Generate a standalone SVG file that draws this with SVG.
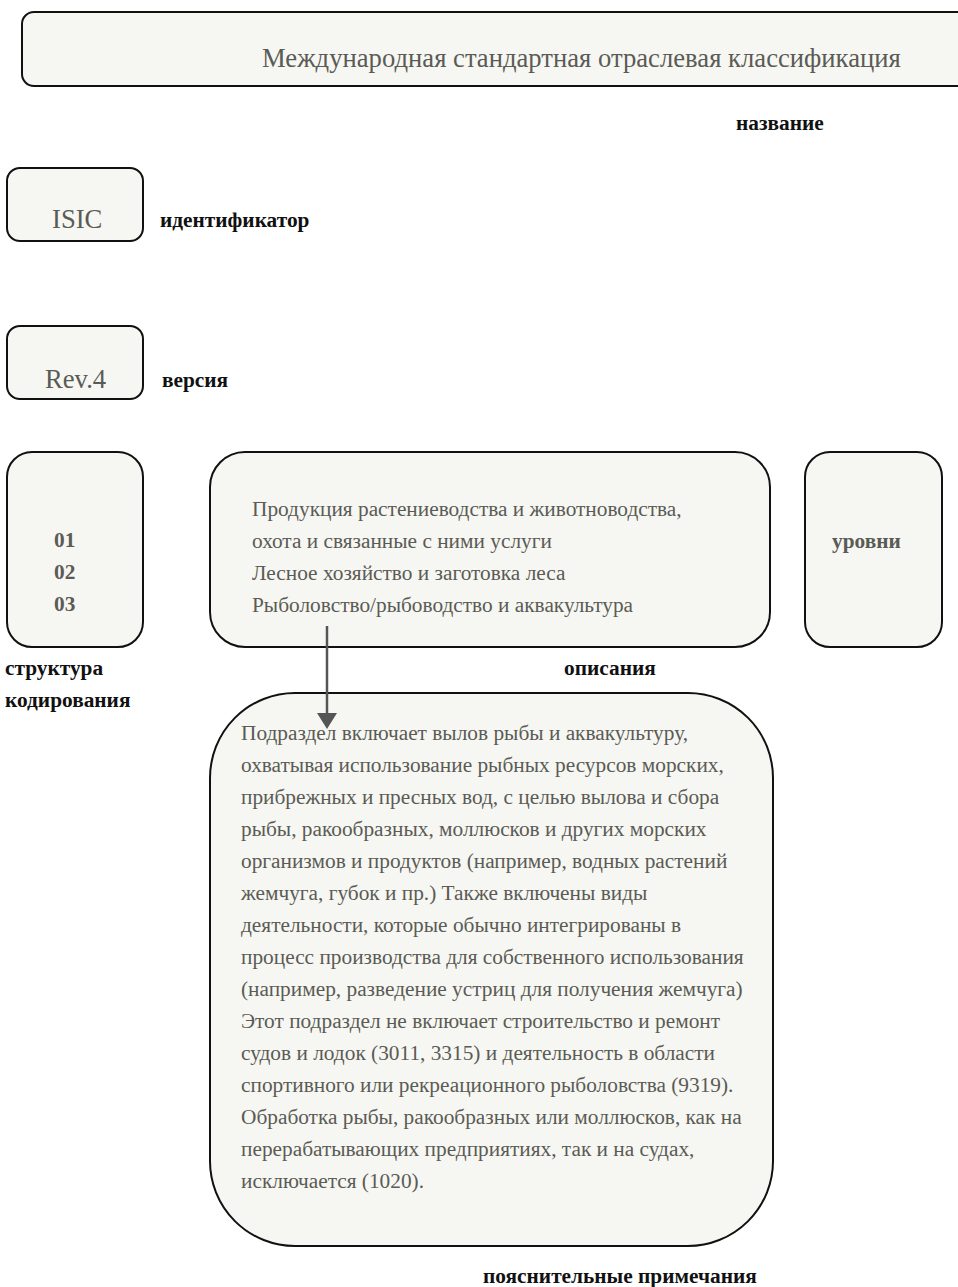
<svg xmlns="http://www.w3.org/2000/svg" width="958" height="1287" viewBox="0 0 958 1287">
<style>
.box{fill:#f6f7f2;stroke:#111;stroke-width:2}
.t{font-family:"Liberation Serif","Times New Roman",serif;fill:#5b5b55}
.big{font-size:26.67px}
.body{font-size:21.33px}
.b{font-family:"Liberation Serif","Times New Roman",serif;font-weight:bold;fill:#111;font-size:21.33px}
.gb{font-family:"Liberation Serif","Times New Roman",serif;font-weight:bold;fill:#5b5b55;font-size:21.33px}
.conn{stroke:#555;stroke-width:2.5;fill:none}
</style>
<rect width="958" height="1287" fill="#fff"/>
<g id="title">
<rect class="box" x="22" y="12" width="960" height="74" rx="12"/>
<text class="t big" x="262" y="67">Международная стандартная отраслевая классификация</text>
</g>
<text class="b" x="736" y="130">название</text>
<g id="isic">
<rect class="box" x="7" y="168" width="136" height="73" rx="13"/>
<text class="t big" x="52" y="228">ISIC</text>
</g>
<text class="b" x="160" y="227">идентификатор</text>
<g id="rev">
<rect class="box" x="7" y="326" width="136" height="73" rx="13"/>
<text class="t big" x="45" y="388">Rev.4</text>
</g>
<text class="b" x="162" y="387">версия</text>
<g id="codes">
<rect class="box" x="7" y="452" width="136" height="195" rx="25"/>
<text class="gb" x="54" y="547">01</text>
<text class="gb" x="54" y="579">02</text>
<text class="gb" x="54" y="611">03</text>
</g>
<text class="b" x="5" y="675">структура</text>
<text class="b" x="5" y="707">кодирования</text>
<g id="desc">
<rect class="box" x="210" y="452" width="560" height="195" rx="35"/>
<text class="t body">
<tspan x="252" y="516">Продукция растениеводства и животноводства,</tspan>
<tspan x="252" y="548">охота и связанные с ними услуги</tspan>
<tspan x="252" y="580">Лесное хозяйство и заготовка леса</tspan>
<tspan x="252" y="612">Рыболовство/рыбоводство и аквакультура</tspan>
</text>
</g>
<text class="b" x="564" y="675">описания</text>
<g id="levels">
<rect class="box" x="805" y="452" width="137" height="195" rx="25"/>
<text class="gb" x="832" y="548">уровни</text>
</g>
<g id="notes">
<rect class="box" x="210" y="693" width="563" height="553" rx="85"/>
<text class="t body">
<tspan x="241" y="740">Подраздел включает вылов рыбы и аквакультуру,</tspan>
<tspan x="241" y="772">охватывая использование рыбных ресурсов морских,</tspan>
<tspan x="241" y="804">прибрежных и пресных вод, с целью вылова и сбора</tspan>
<tspan x="241" y="836">рыбы, ракообразных, моллюсков и других морских</tspan>
<tspan x="241" y="868">организмов и продуктов (например, водных растений</tspan>
<tspan x="241" y="900">жемчуга, губок и пр.) Также включены виды</tspan>
<tspan x="241" y="932">деятельности, которые обычно интегрированы в</tspan>
<tspan x="241" y="964">процесс производства для собственного использования</tspan>
<tspan x="241" y="996">(например, разведение устриц для получения жемчуга)</tspan>
<tspan x="241" y="1028">Этот подраздел не включает строительство и ремонт</tspan>
<tspan x="241" y="1060">судов и лодок (3011, 3315) и деятельность в области</tspan>
<tspan x="241" y="1092">спортивного или рекреационного рыболовства (9319).</tspan>
<tspan x="241" y="1124">Обработка рыбы, ракообразных или моллюсков, как на</tspan>
<tspan x="241" y="1156">перерабатывающих предприятиях, так и на судах,</tspan>
<tspan x="241" y="1188">исключается (1020).</tspan>
</text>
</g>
<text class="b" x="483" y="1283">пояснительные примечания</text>
<g id="connectors">
<line class="conn" x1="327" y1="626" x2="327" y2="714"/>
<path d="M317,713 L337,713 L327,729 Z" fill="#555"/>
</g>
</svg>
